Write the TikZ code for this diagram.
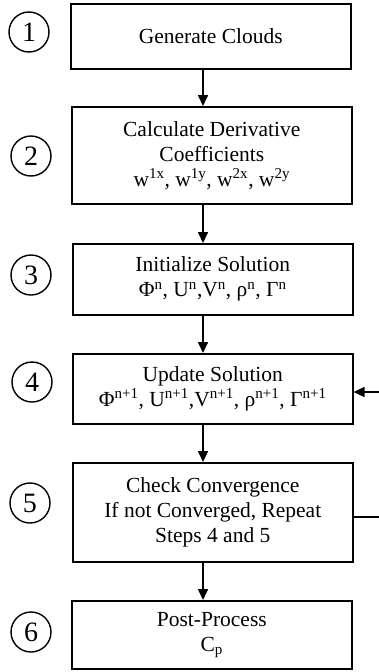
\documentclass[tikz,border=0pt]{standalone}
\usepackage{fontspec}
\setmainfont{Liberation Serif}
\usetikzlibrary{arrows.meta}
\tikzset{
  stepbox/.style={draw, line width=1.6pt, minimum width=280pt, inner sep=0pt,
    align=center, font=\fontsize{21.5}{25}\selectfont, anchor=north west},
  num/.style={draw, circle, line width=1.4pt, minimum size=40pt, inner sep=0pt,
    font=\fontsize{28}{28}\selectfont},
  flow/.style={line width=1.6pt, -{Triangle[length=11pt,width=10pt]}},
}
\begin{document}
\begin{tikzpicture}[x=1pt,y=-1pt]
\useasboundingbox (0,0) rectangle (379,672);
% boxes (pixel coordinates: top-left, height)
\node[stepbox, minimum height=65pt] (b1) at (70,3) {Generate Clouds};
\node[stepbox, minimum height=97pt] (b2) at (71,106) {Calculate Derivative\\Coefficients\\w\textsuperscript{1x}, w\textsuperscript{1y}, w\textsuperscript{2x}, w\textsuperscript{2y}};
\node[stepbox, minimum height=71pt] (b3) at (72,243) {Initialize Solution\\Φ\textsuperscript{n}, U\textsuperscript{n},V\textsuperscript{n}, ρ\textsuperscript{n}, Γ\textsuperscript{n}};
\node[stepbox, minimum height=70pt] (b4) at (72,353) {Update Solution\\Φ\textsuperscript{n+1}, U\textsuperscript{n+1},V\textsuperscript{n+1}, ρ\textsuperscript{n+1}, Γ\textsuperscript{n+1}};
\node[stepbox, minimum height=99pt] (b5) at (72,462) {Check Convergence\\If not Converged, Repeat\\Steps 4 and 5};
\node[stepbox, minimum height=68pt] (b6) at (71,600) {Post-Process\\C\textsubscript{p}};
% step numbers
\node[num] (n1) at (29,32) {1};
\node[num] (n2) at (31,156) {2};
\node[num] (n3) at (31,275) {3};
\node[num] (n4) at (32,382) {4};
\node[num] (n5) at (30,503) {5};
\node[num] (n6) at (31,632) {6};
% connectors
\coordinate (ax) at (203,0);
\draw[flow] (b1.south -| ax) -- (b2.north -| ax);
\draw[flow] (b2.south -| ax) -- (b3.north -| ax);
\draw[flow] (b3.south -| ax) -- (b4.north -| ax);
\draw[flow] (b4.south -| ax) -- (b5.north -| ax);
\draw[flow] (b5.south -| ax) -- (b6.north -| ax);
% feedback loop (vertical part lies just beyond the right edge)
\coordinate (fb1) at (383,517);
\coordinate (fb2) at (383,392);
\draw[flow] (b5.east |- fb1) -- (fb1) -- (fb2) -- (b4.east |- fb2);
\end{tikzpicture}
\end{document}
